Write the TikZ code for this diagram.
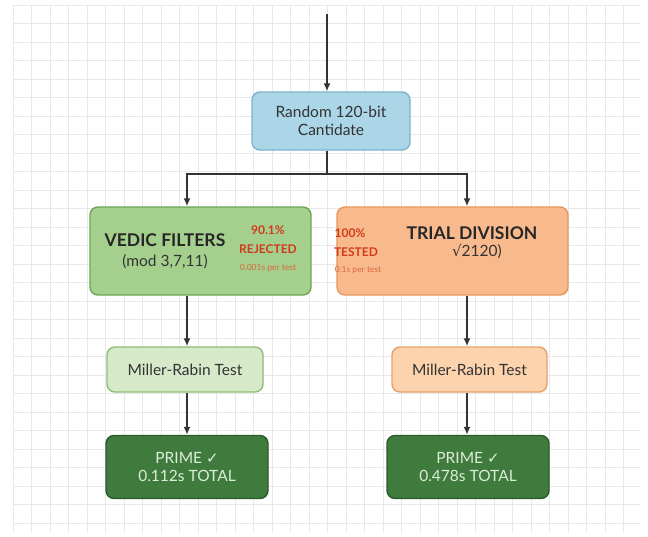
\documentclass[tikz,border=0pt]{standalone}
\usepackage{fontspec}
\setmainfont{Lato}
\newfontfamily\symfont{DejaVu Sans}
\usetikzlibrary{calc, arrows.meta}

\definecolor{gridgray}{HTML}{E8E8E8}
\definecolor{wire}{HTML}{333333}
\definecolor{candfill}{HTML}{ABD6E8}
\definecolor{canddraw}{HTML}{7FB2CA}
\definecolor{vedicfill}{HTML}{A4CF8D}
\definecolor{vedicdraw}{HTML}{6DA653}
\definecolor{trialfill}{HTML}{F8BA8C}
\definecolor{trialdraw}{HTML}{E4995C}
\definecolor{mrgfill}{HTML}{D6E9C9}
\definecolor{mrgdraw}{HTML}{8DBD76}
\definecolor{mrofill}{HTML}{FCD3AD}
\definecolor{mrodraw}{HTML}{E5A16C}
\definecolor{primefill}{HTML}{3F7B3D}
\definecolor{primedraw}{HTML}{2C5A2B}
\definecolor{primetext}{HTML}{DDEDDB}
\definecolor{hotred}{HTML}{D23A1C}
\definecolor{softred}{HTML}{D9693F}

\tikzset{
    box/.style={draw, rounded corners=8pt, line width=1.4pt, inner sep=0pt, align=center},
    flow/.style={draw=wire, line width=1.8pt, -{Latex[length=8pt,width=7pt]}},
    bigtxt/.style={font=\fontsize{15.5}{18.5}\selectfont, text=black!80},
    redtxt/.style={font=\bfseries\fontsize{12}{14}\selectfont, text=hotred, inner sep=0pt},
    tinytxt/.style={font=\fontsize{8.5}{10}\selectfont, text=softred, inner sep=0pt}
}

\begin{document}
\begin{tikzpicture}[x=1pt, y=-1pt]
        \useasboundingbox[fill=white] (0,0) rectangle (648,536);

        % background grid
        \foreach \gx in {13,31.5,...,640} {
            \draw[gridgray, line width=0.8pt] (\gx,5) -- (\gx,533);
        }
        \foreach \gy in {5,23.5,...,533} {
            \draw[gridgray, line width=0.8pt] (13,\gy) -- (640,\gy);
        }

        \coordinate (start) at (327,14);
        \coordinate (fork) at (327,174);
        \coordinate (lx) at (187,0);
        \coordinate (rx) at (467,0);

        \node[box, fill=candfill, draw=canddraw, minimum width=158pt, minimum height=58pt, bigtxt]
            (cand) at (331,121) {Random 120-bit\\[0pt]Cantidate};

        \node[box, fill=vedicfill, draw=vedicdraw, minimum width=221pt, minimum height=88pt]
            (vedic) at (200.5,251) {};
        \node[box, fill=trialfill, draw=trialdraw, minimum width=231pt, minimum height=88pt]
            (trial) at (452.5,251) {};

        \node[box, fill=mrgfill, draw=mrgdraw, minimum width=156pt, minimum height=45pt, bigtxt]
            (mrleft) at (185,369.5) {Miller-Rabin Test};
        \node[box, fill=mrofill, draw=mrodraw, minimum width=155pt, minimum height=45pt, bigtxt]
            (mrright) at (469.5,369.5) {Miller-Rabin Test};

        \node[box, fill=primefill, draw=primedraw, minimum width=162pt, minimum height=63pt, bigtxt, text=primetext]
            (primeleft) at (187,467) {PRIME {\symfont\fontsize{15}{17}\selectfont ✓}\\[0pt]0.112s TOTAL};
        \node[box, fill=primefill, draw=primedraw, minimum width=162pt, minimum height=63pt, bigtxt, text=primetext]
            (primeright) at (468,467) {PRIME {\symfont\fontsize{15}{17}\selectfont ✓}\\[0pt]0.478s TOTAL};

        % texts in the filter boxes
        \node[font=\bfseries\fontsize{17.5}{20}\selectfont, text=black!85, inner sep=0pt] (vedicname) at (165,240) {VEDIC FILTERS};
        \node[bigtxt, inner sep=0pt] (vedicmod) at (165,262) {(mod 3,7,11)};
        \node[redtxt] (rejpct) at (268,230) {90.1\%};
        \node[redtxt] (rejtxt) at (268,249) {REJECTED};
        \node[tinytxt] (rejtime) at (268,268) {0.001s per test};

        \node[font=\bfseries\fontsize{17.5}{20}\selectfont, text=black!85, inner sep=0pt] (trialname) at (472,233) {TRIAL DIVISION};
        \node[bigtxt, inner sep=0pt] (trialroot) at (477,252) {{\symfont\fontsize{15}{17}\selectfont √}2120)};
        \node[redtxt] (testpct) at (350,233) {100\%};
        \node[redtxt] (testtxt) at (356,252) {TESTED};
        \node[tinytxt] (testtime) at (358,270) {0.1s per test};

        % connectors
        \draw[flow] (start) -- (cand.north -| start);
        \draw[draw=wire, line width=1.8pt] (cand.south -| fork) -- (fork);
        \draw[flow] (fork) -| (vedic.north -| lx);
        \draw[flow] (fork) -| (trial.north -| rx);
        \draw[flow] (vedic.south -| lx) -- (mrleft.north -| lx);
        \draw[flow] (trial.south -| rx) -- (mrright.north -| rx);
        \draw[flow] (mrleft.south -| lx) -- (primeleft.north -| lx);
        \draw[flow] (mrright.south -| rx) -- (primeright.north -| rx);
    \end{tikzpicture}
\end{document}
